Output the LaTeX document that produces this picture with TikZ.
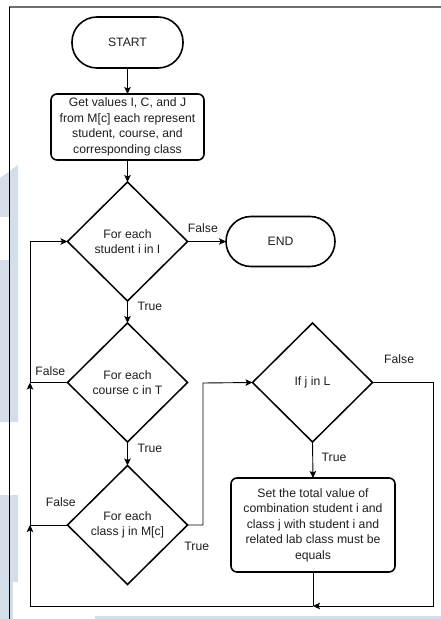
\documentclass[tikz,border=0pt]{standalone}
\usepackage{fontspec}
\setmainfont{Liberation Sans}
\usetikzlibrary{shapes.geometric,arrows.meta,calc}
\definecolor{wm}{HTML}{D3DEE8}
\definecolor{txt}{HTML}{1E1E1E}
\definecolor{frameg}{HTML}{6E6E6E}
\begin{document}
\begin{tikzpicture}[x=1bp,y=-1bp,
  every node/.style={font=\fontsize{12.2bp}{15.5bp}\selectfont, text=txt},
  terminal/.style={draw, line width=1.6bp, rounded corners=25bp, minimum width=111bp, minimum height=51bp, inner sep=0, outer sep=0},
  procbox/.style={draw, line width=1.6bp, rounded corners=6bp, align=center, inner sep=0, outer sep=0},
  decision/.style={draw, diamond, line width=1.5bp, minimum width=120bp, minimum height=119bp, inner sep=0, outer sep=0, align=center},
  arr/.style={draw, line width=0.9bp, -{Stealth[length=7bp,width=6.5bp,inset=1.5bp]}},
  ln/.style={draw, line width=0.9bp},
  lbl/.style={inner sep=0, outer sep=0}
]
\useasboundingbox (0,0) rectangle (441,619);
\fill[white] (0,0) rectangle (441,619);

% faint page decoration behind the chart
\fill[wm] (0,178) -- (18,165) -- (18,422) -- (0,422) -- cycle;
\fill[white] (0,217) rectangle (9,260);
\fill[wm] (0,495) rectangle (18,582);
\fill[wm] (0,582) rectangle (13,619);
\fill[wm] (95,616) rectangle (441,619);

% page frame
\draw[frameg, line width=2bp] (9,7) -- (441,7);
\draw[black, line width=0.8bp] (9,7) -- (9,619);

% nodes
\node[terminal] (start) at (127.5,42.5) {START};
\node[procbox, minimum width=153bp, minimum height=66bp] (get) at (127.5,127)
  {Get values I, C, and J\\from M[c] each represent\\student, course, and\\corresponding class};
\node[decision] (d1) at (127.5,241.5) {For each\\student i in I};
\node[terminal, minimum width=109bp, minimum height=50bp] (endn) at (280.5,241.5) {END};
\node[decision] (d2) at (127.5,382.5) {For each\\course c in T};
\node[decision] (d3) at (127.5,525) {For each\\class j in M[c]};
\node[decision] (d4) at (312.5,382.5) {If j in L};
\node[procbox, minimum width=164bp, minimum height=94bp] (set) at (313,525)
  {Set the total value of\\combination student i and\\class j with student i and\\related lab class must be\\equals};

% routing points
\coordinate (j1) at (203,383);
\coordinate (br) at (433,606);
\coordinate (bl) at (30,606);

% connectors
\draw[arr] (start) -- (get);
\draw[arr] (get) -- (d1);
\draw[arr] (d1.east) -- node[lbl, pos=0.4, yshift=13bp] {False} (endn.west);
\draw[arr] (d1.south) -- node[lbl, pos=0.26, anchor=west, xshift=10bp] {True} (d2.north);
\draw[arr] (d2.south) -- node[lbl, pos=0.26, anchor=west, xshift=10bp] {True} (d3.north);
\draw[arr] (d3.east) -| node[lbl, pos=0.3, yshift=-21bp] {True} (j1) -- (d4.west);
\draw[arr] (d4.south) -- node[lbl, pos=0.44, anchor=west, xshift=9bp] {True} (set.north);
\draw[arr] (d4.east) -| node[lbl, pos=0.22, yshift=23bp] {False} (br) -- (set.south |- br);
\draw[ln] (set.south) -- (set.south |- br);
\draw[arr] (set.south |- br) -- (bl) -- (bl |- d3.west);
\draw[ln] (d3.west) -- node[lbl, pos=0.18, yshift=23bp] {False} (bl |- d3.west);
\draw[arr] (bl |- d3.west) -- (bl |- d2.west);
\draw[ln] (d2.west) -- node[lbl, pos=0.46, yshift=11bp] {False} (bl |- d2.west);
\draw[arr] (bl |- d2.west) |- (d1.west);
\end{tikzpicture}
\end{document}
